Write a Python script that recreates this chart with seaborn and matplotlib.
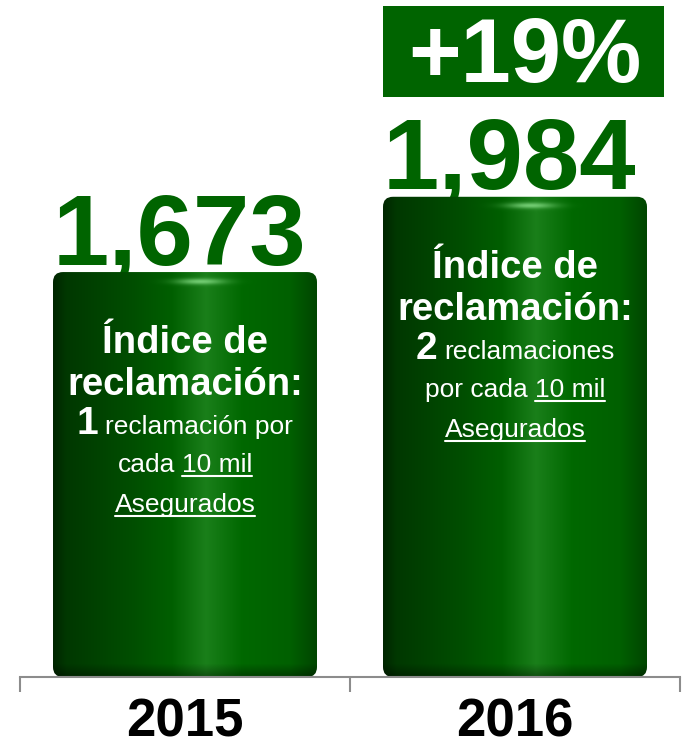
import numpy as np
import seaborn as sns
import matplotlib.pyplot as plt
from matplotlib.colors import to_rgb
from matplotlib.patches import FancyBboxPatch, Rectangle
from matplotlib.lines import Line2D
from matplotlib.transforms import IdentityTransform, ScaledTranslation, blended_transform_factory

sns.set_theme(style="white")
plt.rcParams['font.family'] = ['Liberation Sans', 'DejaVu Sans']

years = ['2015', '2016']
claims = [1673, 1984]

# text inside each bar: (text, style); style b=bold, n=big number, r=regular, u=underlined
index_lines = [
    [[('Índice de', 'b')],
     [('reclamación:', 'b')],
     [('1', 'n'), ('reclamación por', 'r')],
     [('cada', 'r'), ('10 mil', 'u')],
     [('Asegurados', 'u')]],
    [[('Índice de', 'b')],
     [('reclamación:', 'b')],
     [('2', 'n'), ('reclamaciones', 'r')],
     [('por cada', 'r'), ('10 mil', 'u')],
     [('Asegurados', 'u')]],
]
line_offsets = [81, 123, 162, 200, 240]  # px below bar top (baselines)

W, H, DPI = 683, 751, 100
GREEN = '#006400'

styles = {
    'b': dict(fontsize=27.5, fontweight='bold'),
    'n': dict(fontsize=28, fontweight='bold'),
    'r': dict(fontsize=19),
    'u': dict(fontsize=19),
}


def bar_gradient(w, h):
    xs = np.linspace(0, 1, w)
    stops = [0, .05, .3, .45, .58, .72, .9, 1]
    cols = np.array([to_rgb(c) for c in ['#002600', '#003800', '#004e00', '#005f00',
                                          '#1a7f1a', '#006800', '#006000', '#004600']])
    row = np.stack([np.interp(xs, stops, cols[:, k]) for k in range(3)], axis=1)
    img = np.repeat(row[None], h, axis=0)
    ys = np.arange(h)[:, None]
    shade = np.clip((h - ys) / 14, 0, 1) * 0.4 + 0.6
    img = img * shade[..., None]
    glow = 0.85 * np.exp(-((xs[None] - 0.56) / 0.09) ** 2 - ((ys - 9) / 3) ** 2)
    img = img * (1 - glow[..., None]) + np.array(to_rgb('#80d880')) * glow[..., None]
    return np.clip(img, 0, 1)


fig = plt.figure(figsize=(W / DPI, H / DPI), dpi=DPI)
ax = fig.add_axes([20 / W, 74 / H, 660 / W, 677 / H])
sns.barplot(x=years, y=claims, ax=ax, width=0.8, color=GREEN)
ax.set_xlim(-0.5, 1.5)
ax.set_ylim(0, 2797)

# gradient "cylinder" fill clipped to rounded rectangles
for p in ax.patches:
    x0, w, h = p.get_x(), p.get_width(), p.get_height()
    (dx0, dy0), (dx1, dy1) = ax.transData.transform([(x0, 0), (x0 + w, h)])
    pw, ph = int(round(dx1 - dx0)), int(round(dy1 - dy0))
    p.set_facecolor('none')
    p.set_edgecolor('none')
    im = ax.imshow(bar_gradient(pw, ph), extent=(x0, x0 + w, 0, h), aspect='auto',
                   zorder=2, interpolation='bilinear')
    clip = FancyBboxPatch((dx0, dy0), dx1 - dx0, dy1 - dy0,
                          boxstyle='round,pad=0,rounding_size=10', transform=IdentityTransform())
    im.set_clip_path(clip)
ax.set_xlim(-0.5, 1.5)
ax.set_ylim(0, 2797)

# axis styling
for side in ['top', 'right', 'left']:
    ax.spines[side].set_visible(False)
ax.spines['bottom'].set_color('#8c8c8c')
ax.spines['bottom'].set_linewidth(1.5)
ax.set_yticks([])
ax.set_xticks([0, 1])
ax.set_xticklabels(years, fontsize=38, fontweight='bold', color='black')
ax.set_xticks([-0.5, 0.5, 1.5], minor=True)
ax.tick_params(axis='x', which='major', length=0, pad=15)
ax.tick_params(axis='x', which='minor', length=11, width=1.5, color='#8c8c8c', direction='out',
               bottom=True)
ax.set_xlabel('')
ax.set_ylabel('')

# value labels
for i, v in enumerate(claims):
    ax.text(i, v, f'{v:,}', ha='center', va='baseline', fontsize=73, fontweight='bold',
            color=GREEN, zorder=1,
            transform=ax.transData + ScaledTranslation(-6 / DPI, 8 / DPI, fig.dpi_scale_trans))

# growth box
pct = (claims[1] / claims[0] - 1) * 100
bt = blended_transform_factory(ax.transData, ax.transAxes)
ax.add_patch(Rectangle((0.6, 1 - 97 / 677), 0.852, 91 / 677, transform=bt,
                       facecolor=GREEN, edgecolor='none', clip_on=False, zorder=3))
ax.text(1.03, 1 - 82 / 677, f'+{pct:.0f}%', transform=bt, ha='center', va='baseline',
        fontsize=65, fontweight='bold', color='white', zorder=4)

# text inside bars
fig.canvas.draw()
renderer = fig.canvas.get_renderer()
gap = 7
for i, lines in enumerate(index_lines):
    top = claims[i]
    ax_px, ay_px = ax.transData.transform((i, top))
    for off, segs in zip(line_offsets, lines):
        texts = [ax.text(i, top, s, ha='left', va='baseline', color='white', zorder=5,
                         **styles[st]) for s, st in segs]
        widths = [t.get_window_extent(renderer).width for t in texts]
        total = sum(widths) + gap * (len(widths) - 1)
        x = -total / 2
        for t, wd, (s, st) in zip(texts, widths, segs):
            t.set_transform(ax.transData + ScaledTranslation(x / DPI, -off / DPI, fig.dpi_scale_trans))
            if st == 'u':
                ly = (ay_px - off - 4) / H
                fig.add_artist(Line2D([(ax_px + x) / W, (ax_px + x + wd) / W], [ly, ly],
                                      color='white', lw=1.5, zorder=6))
            x += wd + gap

fig.savefig('out.png', dpi=DPI)
